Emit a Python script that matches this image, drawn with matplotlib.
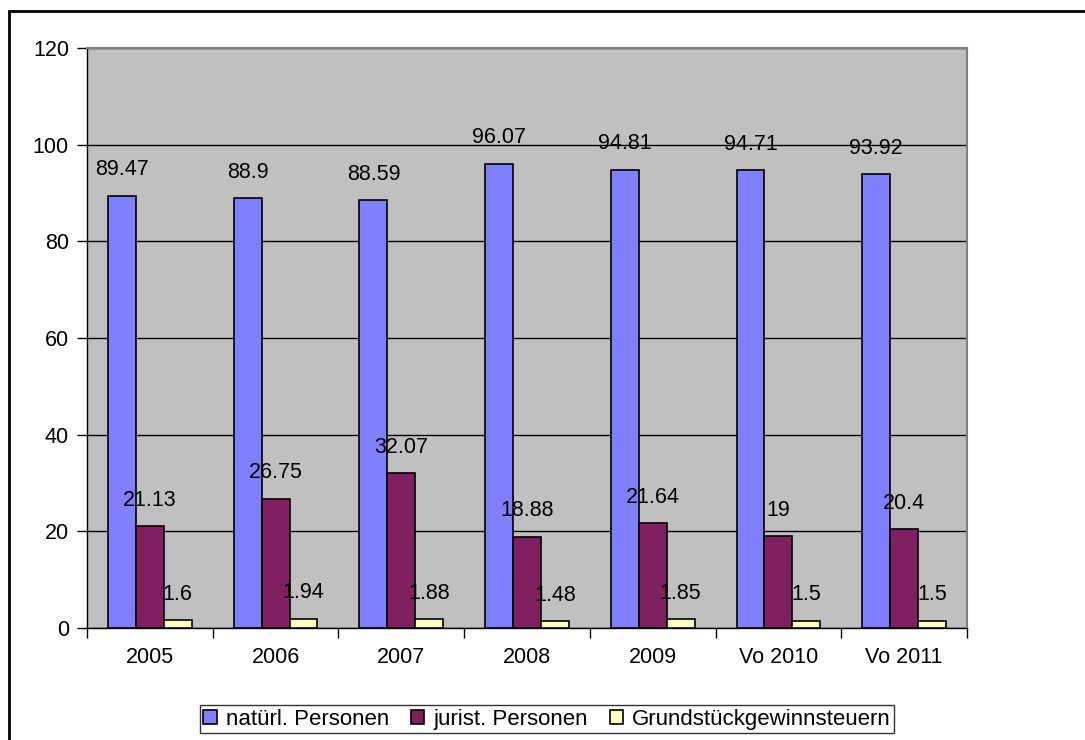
import numpy as np
import matplotlib.pyplot as plt
from matplotlib.patches import Rectangle

plt.rcParams['font.family'] = ['Liberation Sans', 'DejaVu Sans']

# data
years = ['2005', '2006', '2007', '2008', '2009', 'Vo 2010', 'Vo 2011']
natuerl = [89.47, 88.9, 88.59, 96.07, 94.81, 94.71, 93.92]
jurist = [21.13, 26.75, 32.07, 18.88, 21.64, 19, 20.4]
grund = [1.6, 1.94, 1.88, 1.48, 1.85, 1.5, 1.5]
series_names = ['natürl. Personen', 'jurist. Personen', 'Grundstückgewinnsteuern']
colors = ['#8080FF', '#802060', '#FFFFC0']

fig = plt.figure(figsize=(10.85, 7.4), dpi=100)
ax = fig.add_axes([87 / 1085, 112 / 740, 880 / 1085, 580 / 740])
ax.set_facecolor('#C0C0C0')

x = np.arange(len(years))
w = 0.222
bars = []
for i, (vals, name, col) in enumerate(zip([natuerl, jurist, grund], series_names, colors)):
    b = ax.bar(x + (i - 1) * w, vals, w, color=col, edgecolor='black', linewidth=1.2, label=name, zorder=3)
    bars.append(b)
    for xi, v in zip(x + (i - 1) * w, vals):
        ax.annotate(f'{v:g}', (xi, v), xytext=(0, 11), textcoords='offset points',
                    ha='center', va='bottom', fontsize=15.5, zorder=4)

ax.set_xlim(-0.5, len(years) - 0.5)
ax.set_ylim(0, 120)
ax.set_yticks(range(0, 121, 20))
ax.yaxis.grid(True, color='black', linewidth=1, zorder=1)
ax.set_axisbelow(True)

# category ticks on boundaries, labels in the middle
ax.set_xticks(np.arange(-0.5, len(years), 1))
ax.set_xticklabels([])
ax.set_xticks(x, minor=True)
ax.set_xticklabels(years, minor=True)
ax.tick_params(axis='x', which='major', length=7, width=1, direction='out')
ax.tick_params(axis='x', which='minor', length=0, pad=14, labelsize=15.5)
ax.tick_params(axis='y', length=7, width=1, direction='out', pad=6, labelsize=15.5)

for side in ['top', 'right']:
    ax.spines[side].set_color('#808080')
    ax.spines[side].set_linewidth(1.5)
for side in ['left', 'bottom']:
    ax.spines[side].set_color('black')
    ax.spines[side].set_linewidth(1)

leg = fig.legend(handles=bars, loc='lower left', bbox_to_anchor=(200 / 1085, 7 / 740),
                 ncol=3, frameon=True, fancybox=False, fontsize=16,
                 handlelength=0.6, handleheight=0.6, handletextpad=0.4, columnspacing=1.0,
                 borderpad=0.15, borderaxespad=0)
leg.get_frame().set_edgecolor('black')
leg.get_frame().set_linewidth(1)

# outer chart border
fig.patches.append(Rectangle((9 / 1085, -0.1), 1.2, (729 / 740) + 0.1, transform=fig.transFigure,
                             fill=False, edgecolor='black', linewidth=2))

fig.savefig('out.png', dpi=100)
